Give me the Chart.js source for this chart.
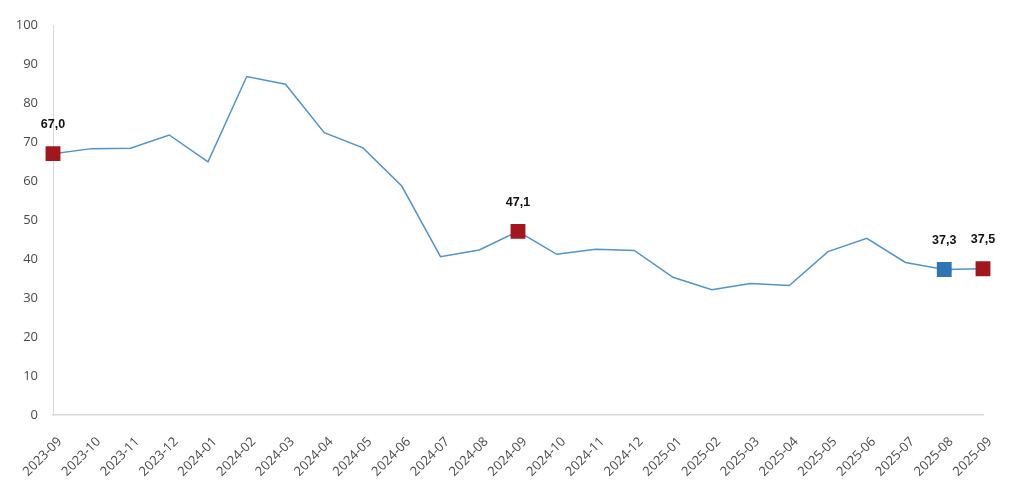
<!DOCTYPE html>
<html>
<head>
<meta charset="utf-8">
<script src="https://cdn.jsdelivr.net/npm/chart.js@4"></script>
<style>
  html, body { margin: 0; padding: 0; background: #fff; }
  #wrap { width: 1024px; height: 494px; }
</style>
</head>
<body>
<div id="wrap"><canvas id="chart" width="1024" height="494"></canvas></div>
<script>
const months = [
  '2023-09', '2023-10', '2023-11', '2023-12', '2024-01', '2024-02', '2024-03',
  '2024-04', '2024-05', '2024-06', '2024-07', '2024-08', '2024-09', '2024-10',
  '2024-11', '2024-12', '2025-01', '2025-02', '2025-03', '2025-04', '2025-05',
  '2025-06', '2025-07', '2025-08', '2025-09'
];
const values = [
  67.0, 68.3, 68.4, 71.8, 64.9, 86.8, 84.8,
  72.4, 68.5, 58.7, 40.6, 42.3, 47.1, 41.2,
  42.5, 42.2, 35.3, 32.1, 33.7, 33.2, 41.9,
  45.3, 39.1, 37.3, 37.5
];
// which points get a marker + label, and their colour
const markedIdx = [0, 12, 23, 24];
const markerColors = ['#A3161E', '#A3161E', '#2E75B6', '#A3161E'];
const yTicks = [0, 10, 20, 30, 40, 50, 60, 70, 80, 90, 100];

const radii = values.map((v, i) => markedIdx.includes(i) ? 10.5 : 0);
const fills = values.map((v, i) => {
  const k = markedIdx.indexOf(i);
  return k >= 0 ? markerColors[k] : 'rgba(0,0,0,0)';
});

// small inline plugin for the value labels (no datalabels plugin here)
const valueLabels = {
  id: 'valueLabels',
  afterDatasetsDraw(chart) {
    const ctx = chart.ctx;
    const meta = chart.getDatasetMeta(0);
    ctx.save();
    ctx.font = 'bold 12.5px "Liberation Sans", Arial, sans-serif';
    ctx.fillStyle = '#111';
    ctx.textAlign = 'center';
    ctx.textBaseline = 'middle';
    markedIdx.forEach(i => {
      const pt = meta.data[i];
      ctx.fillText(values[i].toFixed(1).replace('.', ','), pt.x, pt.y - 29);
    });
    ctx.restore();
  }
};

new Chart(document.getElementById('chart'), {
  type: 'line',
  data: {
    labels: months,
    datasets: [{
      data: values,
      borderColor: '#4F94CF',
      borderWidth: 1.5,
      tension: 0,
      fill: false,
      pointStyle: 'rect',
      pointRadius: radii,
      pointHoverRadius: radii,
      pointBackgroundColor: fills,
      pointBorderColor: fills,
      pointBorderWidth: 0
    }]
  },
  options: {
    responsive: false,
    animation: false,
    layout: { padding: { top: 25, right: 41, left: 0, bottom: 0 } },
    plugins: {
      legend: { display: false },
      tooltip: { enabled: false }
    },
    scales: {
      x: {
        grid: { display: false },
        border: { display: true, color: '#D9D9D9', width: 1.5 },
        ticks: {
          autoSkip: false,
          maxRotation: 45,
          minRotation: 45,
          color: '#4A4A4A',
          padding: 11,
          labelOffset: 7,
          font: { family: '"Open Sans", sans-serif', size: 13 }
        },
        afterFit(scale) { scale.height = 79; }
      },
      y: {
        min: 0,
        max: 100,
        afterBuildTicks(scale) { scale.ticks = yTicks.map(v => ({ value: v })); },
        grid: { display: false },
        border: { display: true, color: '#D9D9D9', width: 1 },
        ticks: {
          color: '#4A4A4A',
          padding: 7,
          font: { family: '"Open Sans", sans-serif', size: 13 }
        },
        afterFit(scale) { scale.width = 53; }
      }
    }
  },
  plugins: [valueLabels]
});
</script>
</body>
</html>
